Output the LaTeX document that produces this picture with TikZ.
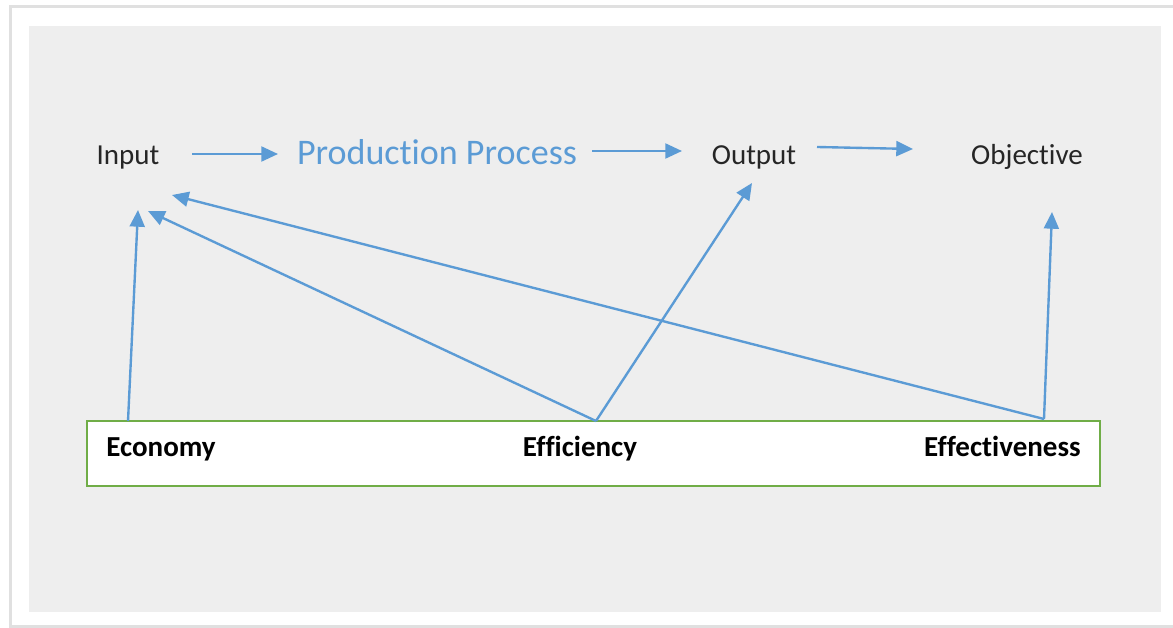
\documentclass[tikz,border=0pt]{standalone}
\usepackage{fontspec}
\setmainfont{Carlito}[Ligatures=NoCommon]
\usetikzlibrary{arrows.meta}

\definecolor{lineblue}{RGB}{91,155,213}
\definecolor{boxgreen}{RGB}{112,173,71}
\definecolor{panelgray}{RGB}{238,238,238}

\tikzset{
  link/.style={-{Triangle[length=9.5pt,width=8.5pt]},line width=1.35pt,color=lineblue},
  word/.style={font=\fontsize{16.5}{19}\selectfont,inner sep=0pt,text=black!85,anchor=base},
  measure/.style={font=\bfseries\fontsize{16.5}{19}\selectfont,inner sep=0pt,text=black,anchor=base}
}

\begin{document}
\begin{tikzpicture}[x=0.02cm,y=-0.02cm]
  \useasboundingbox (0,0) rectangle (1173,628);
  % card and panel
  \fill[black!12] (9,5) rectangle (1173,628);
  \fill[white] (12,8) rectangle (1173,625);
  \fill[panelgray] (29,26) rectangle (1161,612);

  % top row
  \node[word] (in) at (128,165) {Input};
  \node[word,font=\fontsize{20.5}{24}\selectfont,text=lineblue] (prod) at (437,165) {Production Process};
  \node[word] (out) at (754,165) {Output};
  \node[word] (obj) at (1027,165) {Objective};

  % measures box
  \node[draw=boxgreen,line width=1pt,fill=white,minimum width=1013*0.02cm,minimum height=65*0.02cm,inner sep=0pt] (box) at (593.5,453.5) {};
  \node[measure,anchor=base west] (eco) at (106,456) {Economy};
  \node[measure] (eff) at (580,456) {Efficiency};
  \node[measure,anchor=base east] (efv) at (1081,456) {Effectiveness};

  \coordinate (ecoT) at (128,421);
  \coordinate (effT) at (596,421);
  \coordinate (efvT) at (1044,419);
  \coordinate (inA) at (138,210);
  \coordinate (inB) at (148,211);
  \coordinate (inC) at (172,195);
  \coordinate (outA) at (752,183);
  \coordinate (objA) at (1052,212);

  % flow
  \draw[link] (192,154) -- (278,154);
  \draw[link] (592,151) -- (682,151);
  \draw[link] (817,147) -- (913,149);

  % links from the box
  \draw[link] (ecoT) -- (inA);
  \draw[link] (effT) -- (inB);
  \draw[link] (effT) -- (outA);
  \draw[link] (efvT) -- (inC);
  \draw[link] (efvT) -- (objA);
\end{tikzpicture}
\end{document}
